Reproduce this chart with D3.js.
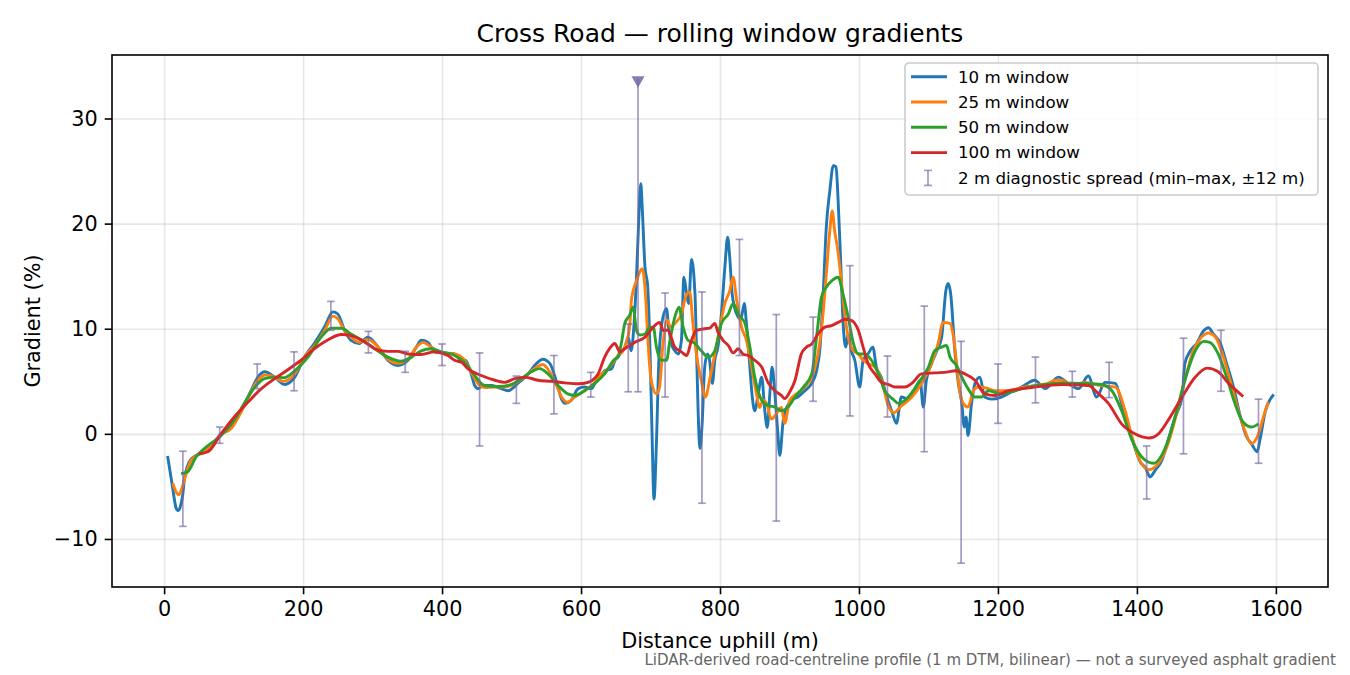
<!DOCTYPE html>
<html>
<head>
<meta charset="utf-8">
<script src="https://cdn.jsdelivr.net/npm/d3@7"></script>
<style>
  body { margin: 0; background: #fff; }
  svg { display: block; font-family: "DejaVu Sans", sans-serif; }
</style>
</head>
<body>
<div id="chart"></div>
<script>
// rolling window gradients: [distance (m), gradient (%)]
const win10 = [[5,-2.1],[12,-5.0],[17,-7.0],[20,-7.3],[23,-7.0],[27,-5.7],[29,-4.4],[34,-3.0],[39,-2.4],[46,-2.05],[56,-1.8],[68,-1.1],[82,0.0],[96,0.65],[111,2.2],[125,4.1],[135,5.4],[145,5.9],[159,5.4],[173,4.7],[188,5.4],[202,7.3],[216,8.6],[231,10.2],[243,11.6],[250,11.4],[260,9.8],[269,8.9],[281,8.6],[293,9.2],[308,8.25],[322,7.0],[336,6.5],[351,7.0],[363,8.25],[370,8.9],[380,8.7],[389,7.8],[401,7.7],[418,7.6],[428,7.0],[433,7.0],[442,5.7],[447,4.6],[452,4.3],[459,4.6],[471,4.6],[485,4.3],[495,4.1],[509,4.8],[524,5.7],[536,6.7],[545,7.1],[555,6.7],[565,4.9],[572,3.3],[577,2.9],[586,3.2],[596,4.3],[605,4.45],[615,4.3],[620,4.8],[629,5.55],[634,6.0],[644,6.2],[649,7.0],[653,7.3],[658,7.8],[663,8.25],[668,9.2],[672,7.9],[676,10.15],[680,15.2],[683,20.3],[686,23.8],[688,21.6],[692,15.9],[696,14.0],[699,8.6],[702,0.6],[705,-6.2],[708.5,-0.9],[712,7.0],[717,10.8],[723,11.9],[726,10.15],[730,8.6],[735,7.9],[740,7.6],[744.5,8.9],[748,14.9],[752,13.3],[755,12.4],[759,16.6],[764,13.3],[766,8.6],[768.5,2.2],[771,-1.4],[774,0.6],[778,6.35],[782,7.6],[785,7.0],[789,4.8],[792.5,7.0],[797,8.25],[802,11.4],[807,15.85],[811,18.7],[814,16.8],[817.5,13.3],[824,11.4],[830,10.9],[835,12.4],[838,10.5],[843,6.35],[846,3.8],[850,2.2],[855,3.8],[860,5.4],[864.5,2.2],[868,0.6],[872,4.1],[875,6.35],[879,3.8],[883,0.3],[886,-2.05],[891,1.3],[896,2.5],[903,3.2],[912,3.5],[922,4.1],[932,4.8],[939,6.0],[944,8.25],[948.5,13.3],[953,19.7],[958,23.1],[963,25.5],[967,25.4],[970,22.2],[974,15.85],[977,10.8],[981,8.25],[984.5,9.5],[989,7.9],[994,7.0],[1001,4.45],[1006,7.0],[1013,7.6],[1020,8.25],[1025,6.35],[1032,5.4],[1040,3.5],[1047,2.2],[1054,1.0],[1061,3.5],[1071,3.3],[1080.5,4.1],[1088,5.1],[1092.5,2.55],[1097,5.1],[1104.5,6.7],[1112,7.9],[1119,9.2],[1125,13.6],[1128.5,14.3],[1132,13.3],[1138,7.9],[1143,4.8],[1148,2.9],[1151.5,0.65],[1154,1.6],[1157,-0.15],[1162,2.9],[1167,4.8],[1174,5.4],[1181,3.5],[1191,3.3],[1205,3.5],[1220,4.0],[1234,4.45],[1253,5.1],[1268,4.3],[1287,5.4],[1301,4.8],[1316,4.3],[1330,5.5],[1342,3.5],[1354,4.9],[1369,4.8],[1378,2.9],[1388,0.65],[1397,-1.3],[1405,-2.7],[1412,-3.2],[1419,-4.1],[1426,-3.5],[1436,-2.5],[1445,-0.6],[1455,1.6],[1465,3.5],[1469,6.7],[1477,7.9],[1486,8.6],[1496,9.8],[1503,10.1],[1510,9.5],[1520,8.6],[1529,6.7],[1539,4.45],[1549,1.6],[1558,-0.3],[1565,-0.95],[1573,-1.7],[1577,-0.6],[1585,2.2],[1592,3.3],[1597,3.75]];

const win25 = [[12.5,-4.7],[17,-5.5],[21,-5.8],[25,-5.3],[29,-4.4],[39,-2.5],[51,-1.9],[68,-1.1],[82,-0.05],[96.5,0.5],[111,2.1],[125,4.0],[135,5.1],[145.5,5.6],[159,5.4],[171,5.0],[188,5.7],[202,7.3],[216.5,8.4],[231,9.8],[243,11.2],[250,10.95],[260,9.8],[272,9.05],[281,8.7],[293,9.0],[308,8.25],[322,7.1],[336.5,6.7],[351,7.1],[363,8.25],[372.5,8.7],[384.5,8.25],[399,7.7],[418,7.6],[432.5,7.0],[444.5,5.55],[454,4.6],[461,4.4],[476,4.45],[490,4.45],[504.5,4.8],[521,5.55],[536,6.35],[545,6.6],[555,5.9],[564.5,4.6],[574,3.3],[581,3.0],[591,3.5],[605,4.1],[620,4.9],[629,5.7],[634,5.9],[648.5,7.0],[653,7.45],[660.5,7.9],[665,8.6],[670,10.2],[672.5,12.7],[675,13.6],[680,14.6],[688,15.7],[692.7,13.3],[696.5,8.6],[701,5.1],[708.5,3.8],[713,4.45],[718,8.6],[724,10.8],[729,10.15],[735,10.5],[744.5,11.4],[752,13.3],[756.5,13.5],[761,10.5],[766,7.6],[773,5.1],[779,3.5],[785,5.1],[792.5,7.6],[800,10.15],[807,12.4],[814,13.6],[819,14.9],[824,12.7],[831,10.15],[838,8.9],[843,7.3],[848,5.4],[852.5,3.8],[857,2.5],[862,3.2],[867,2.9],[874,1.4],[881,1.9],[888.5,2.5],[893,1.0],[900.5,3.2],[910,3.8],[922,4.45],[934,5.7],[941,7.6],[947,10.5],[953,15.2],[958,19.3],[961.5,21.2],[965,19.3],[969,17.75],[974,14.9],[979,11.7],[984.5,9.2],[992,7.9],[999,7.6],[1006,7.0],[1013,6.7],[1023,6.35],[1032.5,5.1],[1042,2.7],[1050,2.0],[1060,2.6],[1076,3.5],[1090,4.8],[1104.5,6.7],[1114,8.6],[1121,10.6],[1131,10.5],[1136,9.2],[1140.5,6.7],[1145,4.1],[1150,2.9],[1157,2.55],[1164.5,4.1],[1172,4.45],[1181,4.4],[1196,4.1],[1215,4.1],[1234,4.4],[1253,4.6],[1272,4.8],[1282,5.1],[1292,5.1],[1306,4.6],[1325,4.9],[1348,4.6],[1369,4.45],[1383,2.2],[1393,-0.3],[1402,-2.2],[1417,-3.4],[1431,-2.8],[1445,-0.9],[1457,1.9],[1469,5.1],[1481,7.9],[1493,9.2],[1503,9.6],[1513,9.2],[1522,7.8],[1534,5.1],[1546,2.2],[1556,0.2],[1565,-0.95],[1575,0.0],[1582,1.6],[1589,3.0]];

const win50 = [[24.5,-3.8],[34,-3.6],[46,-2.2],[58,-1.4],[82,-0.15],[101,1.3],[118,3.2],[132.5,4.6],[144.5,5.25],[159,5.4],[173,5.35],[188,6.0],[207,7.3],[226,9.2],[240.5,10.05],[255,10.05],[269,9.5],[284,8.95],[303,8.1],[322,7.3],[341,6.9],[356,7.3],[370,7.9],[384.5,8.1],[399,7.8],[418,7.46],[432.5,6.8],[447,5.55],[461,4.6],[480.5,4.5],[500,4.7],[514,5.25],[528.5,5.9],[540.5,6.2],[552.5,5.7],[567,4.6],[581,3.8],[591,3.65],[605,4.1],[620,4.8],[634,5.7],[648.5,7.1],[653,7.3],[658,8.6],[663,10.5],[670,11.3],[675,12.05],[680,9.8],[684.5,9.4],[692,9.5],[699,10.15],[704,10.15],[708.5,8.25],[716,7.0],[723,7.0],[728,8.9],[735,11.1],[741,12.05],[747,10.15],[754,8.9],[764,8.6],[773,7.9],[783,7.3],[792.5,7.9],[802,10.5],[812,11.4],[819,12.4],[826,11.4],[836,10.5],[843,8.25],[850,5.4],[860,3.2],[869,2.7],[879,2.55],[888.5,2.2],[898,2.55],[908,3.5],[920,4.45],[932,5.7],[939,9.2],[946,13.0],[953,13.95],[961.5,14.6],[970,14.9],[977,13.3],[984.5,11.1],[992,8.6],[999,7.6],[1008.5,7.6],[1018,7.0],[1028,5.7],[1037,4.1],[1049,3.3],[1057,2.9],[1071,3.5],[1085,4.8],[1100,6.35],[1109,7.9],[1119,8.25],[1126,8.4],[1131,7.3],[1140.5,6.5],[1148,5.4],[1157,4.3],[1167,3.5],[1176.5,3.5],[1186,4.1],[1205,3.8],[1224.5,4.1],[1244,4.45],[1263,4.65],[1292,4.85],[1321,4.8],[1349,4.7],[1364,4.1],[1378,2.2],[1393,-0.6],[1407,-2.2],[1424,-2.8],[1441,-1.3],[1455,1.6],[1469,5.1],[1484,7.9],[1496,8.8],[1505,8.7],[1517,7.6],[1529,5.4],[1541,2.9],[1553,1.1],[1565,0.65],[1575,0.95]];

const win100 = [[50,-1.9],[63,-1.7],[82,0.0],[101,1.6],[120.5,3.0],[140,4.3],[159,5.25],[178,6.1],[197,7.0],[216.5,8.1],[236,8.95],[255,9.45],[269,9.35],[288.5,8.75],[308,7.95],[322,7.85],[336.5,7.85],[351,7.6],[370,7.55],[389,7.8],[408.5,7.45],[418,7.0],[428,6.8],[437,6.2],[456.5,5.55],[476,5.1],[490,4.9],[504.5,5.25],[519,5.4],[538,5.1],[557,5.0],[576.5,4.85],[596,4.76],[610,4.9],[624.5,5.7],[634,7.3],[641,8.1],[648.5,8.6],[656,7.8],[663,8.1],[677,8.7],[692,9.2],[704,10.15],[713,10.6],[718,9.85],[725,9.85],[735,8.25],[744.5,7.8],[752,7.45],[759,8.9],[766,9.85],[778,10.0],[785,10.05],[792.5,10.5],[797,9.7],[804.5,8.9],[812,8.4],[819,7.7],[826,8.1],[833,7.6],[840.5,7.45],[850,7.0],[860,6.35],[869,4.9],[879,4.1],[888.5,3.65],[893,3.35],[900.5,4.0],[908,5.1],[917,7.6],[924.5,8.25],[932,8.55],[941,9.5],[951,10.15],[960.5,10.3],[970,10.6],[980,10.9],[989,10.8],[999,9.85],[1006,8.25],[1013,6.7],[1023,5.7],[1032.5,4.9],[1042,4.7],[1052,4.45],[1066,4.45],[1076,4.8],[1090,5.7],[1109,5.8],[1128.5,5.9],[1138,6.0],[1152.5,5.7],[1167,5.1],[1181,3.8],[1196,3.65],[1215,4.1],[1234,4.3],[1253,4.45],[1273,4.6],[1292,4.7],[1330,4.6],[1345,3.8],[1359,2.9],[1378,0.95],[1397,0.0],[1417,-0.4],[1431,0.0],[1445,1.3],[1465,3.5],[1484,5.4],[1501,6.25],[1517,5.9],[1532,4.8],[1553,3.55]];

// 2 m diagnostic spread (min–max within ±12 m)
const spreadAt  = [27,80,134,187,240,294,347,400,454,507,561,614,668,682,721,774,828,881,934,987,1041,1094,1147,1200,1254,1307,1360,1414,1467,1521,1575];
const spreadMin = [-8.8,-0.9,4.3,4.1,9.85,7.7,5.85,6.5,-1.15,2.9,1.9,3.5,4.0,4.0,3.5,-6.6,7.45,-8.3,3.1,1.7,1.6,-1.7,-12.3,1.0,2.95,3.5,3.45,-6.2,-1.9,4.05,-2.8];
const spreadMax = [-1.65,0.65,6.65,7.8,12.6,9.75,7.85,8.55,7.7,5.5,7.45,5.85,10.45,33.8,13.4,13.5,18.5,11.35,11.1,16.0,7.4,12.15,8.8,6.65,7.3,5.95,6.8,-1.15,9.1,9.85,3.3];
const spreadClipped = [682]; // max runs off the top, marked with a triangle

const xTicks = [0, 200, 400, 600, 800, 1000, 1200, 1400, 1600];
const yTicks = [-10, 0, 10, 20, 30];
const seriesNames = ["10 m window", "25 m window", "50 m window", "100 m window"];
const seriesColors = ["#1f77b4", "#ff7f0e", "#2ca02c", "#d62728"];
const spreadName = "2 m diagnostic spread (min–max, ±12 m)";

function chart() {
const W = 1350, H = 675;
const margin = { top: 55, right: 22, bottom: 88, left: 112 };
const width = W - margin.left - margin.right;
const height = H - margin.top - margin.bottom;

const root = d3.select("#chart").append("svg")
    .attr("width", W)
    .attr("height", H);

const svg = root.append("g")
    .attr("transform", `translate(${margin.left},${margin.top})`);

const x = d3.scaleLinear().domain([-75, 1675]).range([0, width]);
const y = d3.scaleLinear().domain([-14.57, 36.04]).range([height, 0]);
const fmt = d3.format("d");

svg.append("defs").append("clipPath").attr("id", "plotclip")
    .append("rect").attr("width", width).attr("height", height);

// グリッド
svg.append("g")
    .attr("transform", `translate(0,${height})`)
    .call(d3.axisBottom(x).tickValues(xTicks).tickSize(-height).tickFormat(""))
    .call(g => g.select(".domain").remove())
    .call(g => g.selectAll("line").attr("stroke", "#b0b0b0").attr("stroke-opacity", 0.3).attr("stroke-width", 1.6));
svg.append("g")
    .call(d3.axisLeft(y).tickValues(yTicks).tickSize(-width).tickFormat(""))
    .call(g => g.select(".domain").remove())
    .call(g => g.selectAll("line").attr("stroke", "#b0b0b0").attr("stroke-opacity", 0.3).attr("stroke-width", 1.6));

// 線
const line = d3.line()
    .x(d => x(d[0]))
    .y(d => y(d[1]))
    .curve(d3.curveMonotoneX);

const plot = svg.append("g").attr("clip-path", "url(#plotclip)");
[win10, win25, win50, win100].forEach((s, i) => {
    plot.append("path")
        .datum(s)
        .attr("fill", "none")
        .attr("stroke", seriesColors[i])
        .attr("stroke-width", 2.9)
        .attr("stroke-linejoin", "round")
        .attr("d", line);
});

// エラーバー
const spread = spreadAt.map((d, i) => ({ at: d, lo: spreadMin[i], hi: spreadMax[i] }));
const barColor = "#7466a3";
const bars = plot.selectAll("g.spread")
    .data(spread)
    .enter()
    .append("g")
    .attr("class", "spread")
    .attr("stroke", barColor)
    .attr("stroke-opacity", 0.65)
    .attr("stroke-width", 1.7);
bars.append("line")
    .attr("x1", d => x(d.at)).attr("x2", d => x(d.at))
    .attr("y1", d => y(d.lo)).attr("y2", d => y(d.hi));
bars.append("line")
    .attr("x1", d => x(d.at) - 3.8).attr("x2", d => x(d.at) + 3.8)
    .attr("y1", d => y(d.lo)).attr("y2", d => y(d.lo));
bars.filter(d => !spreadClipped.includes(d.at)).append("line")
    .attr("x1", d => x(d.at) - 3.8).attr("x2", d => x(d.at) + 3.8)
    .attr("y1", d => y(d.hi)).attr("y2", d => y(d.hi));

plot.selectAll("path.clip-mark")
    .data(spread.filter(d => spreadClipped.includes(d.at)))
    .enter()
    .append("path")
    .attr("class", "clip-mark")
    .attr("d", d3.symbol(d3.symbolTriangle, 75))
    .attr("transform", d => `translate(${x(d.at)},${y(d.hi) + 1.5}) rotate(180)`)
    .attr("fill", barColor)
    .attr("fill-opacity", 0.85);

// 軸
const xAxis = svg.append("g")
    .attr("transform", `translate(0,${height})`)
    .call(d3.axisBottom(x).tickValues(xTicks).tickFormat(fmt).tickSize(7.3).tickPadding(6.5));
const yAxis = svg.append("g")
    .call(d3.axisLeft(y).tickValues(yTicks).tickFormat(fmt).tickSize(7.3).tickPadding(7));
[xAxis, yAxis].forEach(a => {
    a.select(".domain").remove();
    a.selectAll("line").attr("stroke", "#000").attr("stroke-width", 1.6);
    a.selectAll("text").attr("font-size", 20.8).attr("fill", "#000").attr("font-family", "DejaVu Sans");
});

// 枠
svg.append("rect")
    .attr("width", width).attr("height", height)
    .attr("fill", "none").attr("stroke", "#000").attr("stroke-width", 1.6);

// タイトル・ラベル
root.append("text")
    .attr("x", margin.left + width / 2).attr("y", 42)
    .attr("text-anchor", "middle").attr("font-size", 25)
    .text("Cross Road — rolling window gradients");
root.append("text")
    .attr("x", margin.left + width / 2).attr("y", 648)
    .attr("text-anchor", "middle").attr("font-size", 20.8)
    .text("Distance uphill (m)");
root.append("text")
    .attr("transform", `translate(40,${margin.top + height / 2}) rotate(-90)`)
    .attr("text-anchor", "middle").attr("font-size", 20.8)
    .text("Gradient (%)");
root.append("text")
    .attr("x", 1336).attr("y", 665)
    .attr("text-anchor", "end").attr("font-size", 15).attr("fill", "#666")
    .text("LiDAR-derived road-centreline profile (1 m DTM, bilinear) — not a surveyed asphalt gradient");

// 凡例
const legend = root.append("g").attr("transform", "translate(905,63)");
legend.append("rect")
    .attr("width", 413).attr("height", 132).attr("rx", 4)
    .attr("fill", "#fff").attr("fill-opacity", 0.8)
    .attr("stroke", "#cccccc").attr("stroke-width", 1.6);
const items = seriesNames.concat([spreadName]);
const rows = legend.selectAll("g.item")
    .data(items)
    .enter()
    .append("g")
    .attr("class", "item")
    .attr("transform", (d, i) => `translate(0,${13.7 + i * 25.3})`);
rows.filter((d, i) => i < 4).append("line")
    .attr("x1", 6).attr("x2", 42).attr("y1", 0).attr("y2", 0)
    .attr("stroke", (d, i) => seriesColors[i]).attr("stroke-width", 2.9);
const eb = rows.filter((d, i) => i === 4).append("g")
    .attr("stroke", barColor).attr("stroke-opacity", 0.65).attr("stroke-width", 1.7);
eb.append("line").attr("x1", 23).attr("x2", 23).attr("y1", -7.5).attr("y2", 7.5);
eb.append("line").attr("x1", 19).attr("x2", 27).attr("y1", -7.5).attr("y2", -7.5);
eb.append("line").attr("x1", 19).attr("x2", 27).attr("y1", 7.5).attr("y2", 7.5);
rows.append("text")
    .attr("x", 53).attr("y", 0).attr("dy", "0.35em")
    .attr("font-size", 16.67)
    .text(d => d);
}
chart();
</script>
</body>
</html>
